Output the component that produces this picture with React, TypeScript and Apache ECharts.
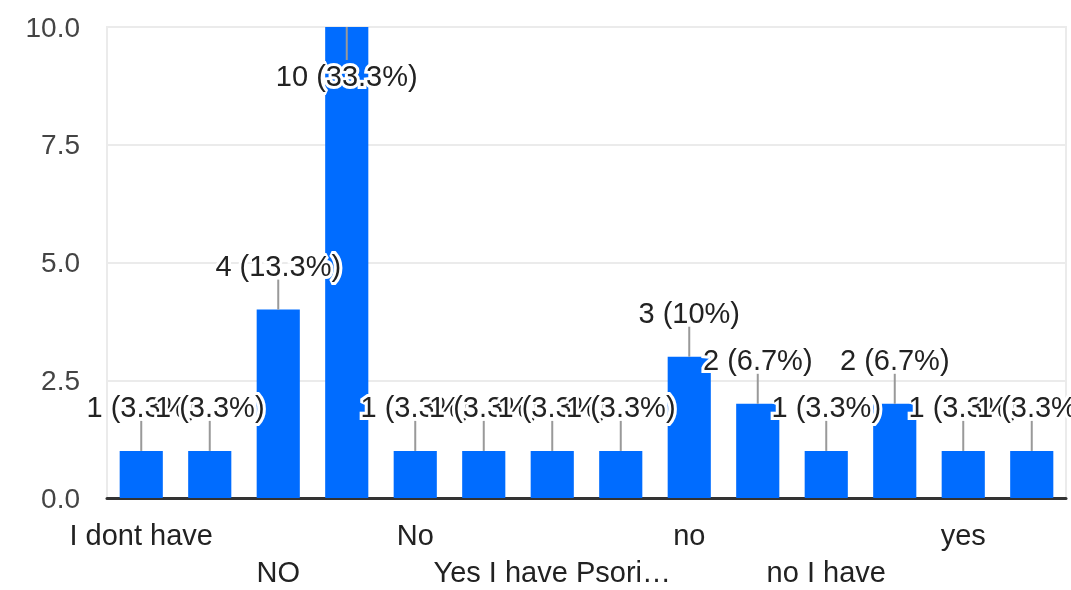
import React, { useEffect, useRef } from "react";
import * as echarts from "echarts";

const categories = [
  "I dont have",
  "I have no",
  "NO",
  "Never",
  "No",
  "None",
  "Yes I have Psoriasis",
  "Yes I have eczema",
  "no",
  "no I dont",
  "no I have",
  "none",
  "yes",
  "yes I have",
];
const counts = [1, 1, 4, 10, 1, 1, 1, 1, 3, 2, 1, 2, 1, 1];
const yTicks = [0, 2.5, 5, 7.5, 10];

const FONT = "'Liberation Sans', Arial, Helvetica, sans-serif";

export default function App() {
  const ref = useRef<HTMLDivElement>(null);
  useEffect(() => {
    if (!ref.current) return;
    const chart = echarts.init(ref.current, undefined, { renderer: "svg" });
    const total = counts.reduce((a, b) => a + b, 0);
    const labelFor = (v: number) => {
      const pct = Math.round((v / total) * 1000) / 10;
      return `${v} (${pct}%)`;
    };
    chart.setOption({
      animation: false,
      grid: {
        left: 107,
        right: 5,
        top: 27,
        bottom: 85,
        show: true,
        borderColor: "#ebebeb",
        borderWidth: 2,
      },
      xAxis: {
        type: "category",
        data: categories,
        axisTick: { show: false },
        axisLine: { show: true, lineStyle: { color: "#333", width: 3 } },
        axisLabel: {
          interval: 1,
          margin: 18,
          color: "#222",
          fontSize: 29,
          fontFamily: FONT,
          lineHeight: 37,
          formatter: (value: string, index: number) => {
            const t = value.length > 17 ? value.slice(0, 16) + "\u2026" : value;
            return index % 4 === 2 ? "\n" + t : t;
          },
        },
      },
      yAxis: {
        type: "value",
        min: yTicks[0],
        max: yTicks[yTicks.length - 1],
        interval: 2.5,
        axisLine: { show: false },
        axisTick: { show: false },
        splitLine: { lineStyle: { color: "#ebebeb", width: 2 } },
        axisLabel: {
          margin: 27,
          color: "#444",
          fontSize: 28,
          fontFamily: FONT,
          formatter: (v: number) => v.toFixed(1),
        },
      },
      series: [
        {
          type: "bar",
          data: counts,
          barWidth: "63%",
          itemStyle: { color: "#006cff" },
          silent: true,
        },
        {
          type: "custom",
          data: counts.map((v, i) => [i, v]),
          silent: true,
          z: 10,
          renderItem: (params: any, api: any) => {
            const i = api.value(0);
            const v = api.value(1);
            const pt = api.coord([i, v]);
            const x = pt[0];
            const y = pt[1];
            const gridTop = params.coordSys.y;
            const inside = y - 58 < gridTop;
            const y2 = inside ? y + 33 : y - 30;
            const ty = inside ? y + 49 : y - 44;
            return {
              type: "group",
              children: [
                {
                  type: "line",
                  shape: { x1: x, y1: y, x2: x, y2 },
                  style: { stroke: "#999", lineWidth: 2 },
                },
                {
                  type: "text",
                  x,
                  y: ty,
                  style: {
                    text: labelFor(v),
                    fill: "#222",
                    fontSize: 29,
                    fontFamily: FONT,
                    align: "center",
                    verticalAlign: "middle",
                    stroke: "#fff",
                    lineWidth: 6,
                  },
                },
              ],
            };
          },
        },
      ],
    });
    return () => chart.dispose();
  }, []);
  return (
    <div
      ref={ref}
      style={{ position: "fixed", left: 0, top: 0, width: 1071, height: 590 }}
    />
  );
}
